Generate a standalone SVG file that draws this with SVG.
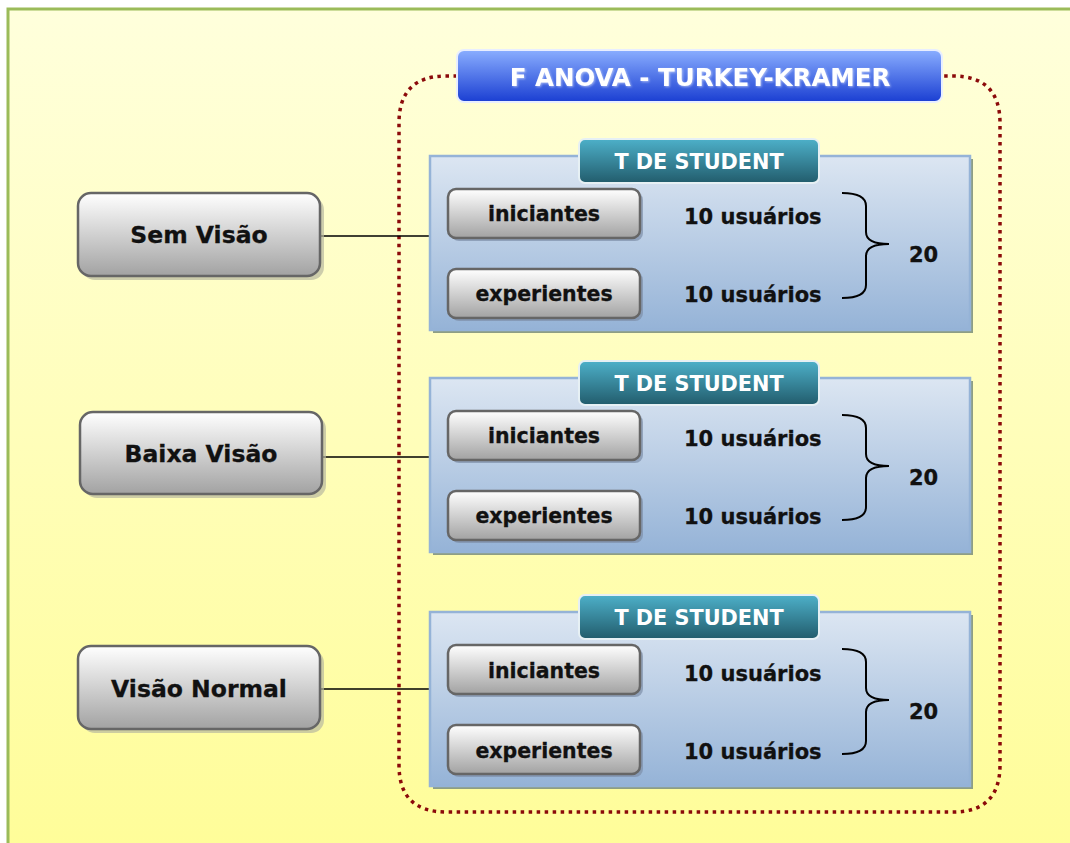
<svg xmlns="http://www.w3.org/2000/svg" width="1070" height="843" viewBox="0 0 1070 843">
  <defs>
    <linearGradient id="bg" x1="0" y1="0" x2="0" y2="1">
      <stop offset="0" stop-color="#FFFFDC"/>
      <stop offset="1" stop-color="#FFFD98"/>
    </linearGradient>
    <linearGradient id="titleFill" x1="0" y1="0" x2="0" y2="1">
      <stop offset="0" stop-color="#8AAEFF"/>
      <stop offset="1" stop-color="#1A3ED2"/>
    </linearGradient>
    <linearGradient id="tabFill" x1="0" y1="0" x2="0" y2="1">
      <stop offset="0" stop-color="#4DB0C9"/>
      <stop offset="1" stop-color="#225C6C"/>
    </linearGradient>
    <linearGradient id="panelFill" x1="0" y1="0" x2="0" y2="1">
      <stop offset="0" stop-color="#DCE6F2"/>
      <stop offset="1" stop-color="#95B3D7"/>
    </linearGradient>
    <linearGradient id="btnFill" x1="0" y1="0" x2="0" y2="1">
      <stop offset="0" stop-color="#FFFFFF"/>
      <stop offset="1" stop-color="#A2A2A2"/>
    </linearGradient>
    <filter id="glow" x="-10%" y="-30%" width="120%" height="160%">
      <feGaussianBlur in="SourceAlpha" stdDeviation="1.2" result="b"/>
      <feFlood flood-color="#FFFFFF" flood-opacity="0.5"/>
      <feComposite in2="b" operator="in" result="s"/>
      <feOffset dx="1" dy="1"/>
      <feMerge><feMergeNode/><feMergeNode in="SourceGraphic"/></feMerge>
    </filter>
  </defs>
  <style>
    text { font-family: "DejaVu Sans", Verdana, sans-serif; font-weight: bold; text-anchor: middle; }
    .big { font-size: 23.5px; fill: #111; stroke: #111; stroke-width: 0.3; }
    .btn-t { font-size: 20.5px; fill: #111; stroke: #111; stroke-width: 0.3; }
    .cnt { font-size: 21px; fill: #111; stroke: #111; stroke-width: 0.3; text-anchor: start; }
    .title-t { font-size: 24.5px; fill: #FFFFFF; }
    .tab-t { font-size: 20.8px; fill: #FFFFFF; }
    .node { fill: url(#btnFill); stroke: #666666; stroke-width: 2.5; }
    .node-sh { fill: #B8B8A0; opacity: 0.7; }
    .btn { fill: url(#btnFill); stroke: #666666; stroke-width: 2.5; }
    .btn-sh { fill: #7E8FA8; opacity: 0.7; }
    .panel { fill: url(#panelFill); stroke: #95B3D7; stroke-width: 2.5; }
    .panel-sh { fill: #8E9E84; }
    .tab { fill: url(#tabFill); stroke: #E6F0F4; stroke-width: 2; }
    .brace { fill: none; stroke: #000; stroke-width: 2; }
    .conn { stroke: #000; stroke-width: 1.6; fill: none; }
  </style>

  <!-- page frame -->
  <rect x="0" y="0" width="1070" height="843" fill="#FFFFFF"/>
  <rect x="8" y="9" width="1070" height="850" fill="url(#bg)" stroke="#9BBB59" stroke-width="3"/>

  <!-- dotted boundary of the ANOVA block -->
  <path d="M 457 76 L 446 76 Q 399 76 399 123 L 399 765 Q 399 812 446 812 L 953 812 Q 1000 812 1000 765 L 1000 123 Q 1000 76 953 76 L 942 76"
        fill="none" stroke="#8B0A0A" stroke-width="3.5" stroke-dasharray="3.5 4.5"/>

  <!-- title -->
  <g id="title">
    <rect x="457" y="50" width="485" height="52" rx="7" fill="url(#titleFill)" stroke="#E8EEFF" stroke-width="2"/>
    <text class="title-t" x="700" y="86" filter="url(#glow)">F ANOVA - TURKEY-KRAMER</text>
  </g>

  <!-- connectors -->
  <g id="connectors">
    <line class="conn" x1="320" y1="236" x2="431" y2="236"/>
    <line class="conn" x1="322" y1="457" x2="431" y2="457"/>
    <line class="conn" x1="320" y1="689" x2="431" y2="689"/>
  </g>

  <!-- left nodes -->
  <g id="node-sem-visao">
    <rect class="node-sh" x="82" y="197" width="242" height="83" rx="13"/>
    <rect class="node" x="78" y="193" width="242" height="83" rx="13"/>
    <text class="big" x="199" y="243">Sem Visão</text>
  </g>
  <g id="node-baixa-visao">
    <rect class="node-sh" x="84" y="416" width="242" height="82" rx="13"/>
    <rect class="node" x="80" y="412" width="242" height="82" rx="13"/>
    <text class="big" x="201" y="462">Baixa Visão</text>
  </g>
  <g id="node-visao-normal">
    <rect class="node-sh" x="82" y="650" width="242" height="83" rx="13"/>
    <rect class="node" x="78" y="646" width="242" height="83" rx="13"/>
    <text class="big" x="199" y="697">Visão Normal</text>
  </g>

  <!-- group panel 1 -->
  <g id="panel-1">
    <rect class="panel-sh" x="433" y="159" width="540" height="174"/>
    <rect class="panel" x="430" y="156" width="540" height="174"/>
    <rect class="tab" x="579" y="139" width="240" height="44" rx="6"/>
    <text class="tab-t" x="699" y="169">T DE STUDENT</text>
    <rect class="btn-sh" x="451" y="192" width="192" height="49" rx="8"/>
    <rect class="btn" x="448" y="189" width="192" height="49" rx="8"/>
    <text class="btn-t" x="544" y="221">iniciantes</text>
    <rect class="btn-sh" x="451" y="272" width="192" height="49" rx="8"/>
    <rect class="btn" x="448" y="269" width="192" height="49" rx="8"/>
    <text class="btn-t" x="544" y="301">experientes</text>
    <text class="cnt" x="684" y="224">10 usuários</text>
    <text class="cnt" x="684" y="302">10 usuários</text>
    <path class="brace" d="M 842 193 Q 866 193 866 206 L 866 232 Q 866 244 889 244 Q 866 244 866 256 L 866 285 Q 866 298 842 298"/>
    <text class="cnt" x="909" y="262">20</text>
  </g>

  <!-- group panel 2 -->
  <g id="panel-2">
    <rect class="panel-sh" x="433" y="381" width="540" height="174"/>
    <rect class="panel" x="430" y="378" width="540" height="174"/>
    <rect class="tab" x="579" y="361" width="240" height="44" rx="6"/>
    <text class="tab-t" x="699" y="391">T DE STUDENT</text>
    <rect class="btn-sh" x="451" y="414" width="192" height="49" rx="8"/>
    <rect class="btn" x="448" y="411" width="192" height="49" rx="8"/>
    <text class="btn-t" x="544" y="443">iniciantes</text>
    <rect class="btn-sh" x="451" y="494" width="192" height="49" rx="8"/>
    <rect class="btn" x="448" y="491" width="192" height="49" rx="8"/>
    <text class="btn-t" x="544" y="523">experientes</text>
    <text class="cnt" x="684" y="446">10 usuários</text>
    <text class="cnt" x="684" y="524">10 usuários</text>
    <path class="brace" d="M 842 415 Q 866 415 866 428 L 866 454 Q 866 466 889 466 Q 866 466 866 478 L 866 507 Q 866 520 842 520"/>
    <text class="cnt" x="909" y="485">20</text>
  </g>

  <!-- group panel 3 -->
  <g id="panel-3">
    <rect class="panel-sh" x="433" y="615" width="540" height="174"/>
    <rect class="panel" x="430" y="612" width="540" height="174"/>
    <rect class="tab" x="579" y="595" width="240" height="44" rx="6"/>
    <text class="tab-t" x="699" y="625">T DE STUDENT</text>
    <rect class="btn-sh" x="451" y="648" width="192" height="49" rx="8"/>
    <rect class="btn" x="448" y="645" width="192" height="49" rx="8"/>
    <text class="btn-t" x="544" y="678">iniciantes</text>
    <rect class="btn-sh" x="451" y="728" width="192" height="49" rx="8"/>
    <rect class="btn" x="448" y="725" width="192" height="49" rx="8"/>
    <text class="btn-t" x="544" y="758">experientes</text>
    <text class="cnt" x="684" y="681">10 usuários</text>
    <text class="cnt" x="684" y="759">10 usuários</text>
    <path class="brace" d="M 842 649 Q 866 649 866 662 L 866 688 Q 866 700 889 700 Q 866 700 866 712 L 866 741 Q 866 754 842 754"/>
    <text class="cnt" x="909" y="719">20</text>
  </g>
</svg>
